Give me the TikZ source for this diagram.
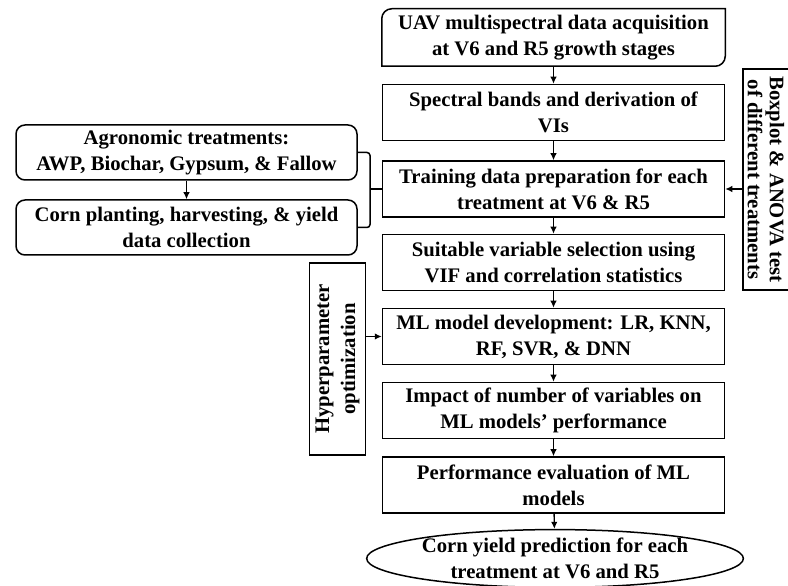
\documentclass[tikz,border=0pt]{standalone}
\usepackage{fontspec}
\setmainfont{Liberation Serif}
\usetikzlibrary{arrows.meta,shapes.geometric}

\begin{document}
\begin{tikzpicture}[
  x=1pt,y=1pt,
  line width=1.5pt,
  font=\bfseries\fontsize{20.7}{26}\selectfont,
  stepbox/.style={draw,align=center,minimum width=342,minimum height=56,inner sep=1pt},
  sidebox/.style={draw,rounded corners=9pt,align=center,minimum width=341,minimum height=55,inner sep=1pt},
  vbox/.style={draw,align=center,inner sep=1pt},
  endbox/.style={ellipse,draw,align=center,minimum width=344,minimum height=53,inner sep=0pt},
  arr/.style={line width=1.3pt,-{Latex[length=7pt,width=6.5pt]}}
]
  \useasboundingbox (0,0) rectangle (788,586);

  % main column
  \node[align=center,minimum width=342,minimum height=56,inner sep=1pt] (uav) at (553.5,548.5)
    {UAV multispectral data acquisition\\at V6 and R5 growth stages};
  \node[stepbox] (spec) at (553.5,473.5) {Spectral bands and derivation of\\VIs};
  \node[stepbox] (train) at (553.5,397) {Training data preparation for each\\treatment at V6 \& R5};
  \node[stepbox] (select) at (553.5,323.5) {Suitable variable selection using\\VIF and correlation statistics};
  \node[stepbox] (model) at (553.5,249.5) {ML model development: LR, KNN,\\RF, SVR, \& DNN};
  \node[stepbox] (impact) at (553.5,175.5) {Impact of number of variables on\\ML models' performance};
  \node[stepbox] (perf) at (553.5,101) {Performance evaluation of ML\\models};
  \node[endbox] (yield) at (555,27.5) {Corn yield prediction for each\\treatment at V6 and R5};

  % uav box: only two corners rounded
  \draw ([yshift=-10pt]uav.north west) arc[start angle=180,end angle=90,radius=10pt]
    -- (uav.north east) -- ([yshift=10pt]uav.south east)
    arc[start angle=0,end angle=-90,radius=10pt] -- (uav.south west) -- cycle;

  % left inputs
  \node[sidebox] (agro) at (186.5,433.5) {Agronomic treatments:\\AWP, Biochar, Gypsum, \& Fallow};
  \node[sidebox] (corn) at (186.5,358.5) {Corn planting, harvesting, \& yield\\data collection};

  % side boxes (rotated, so .south is the side facing the column)
  \node[vbox,rotate=90,minimum width=192,minimum height=56] (hyper) at (337.5,227)
    {Hyperparameter\\optimization};
  \node[vbox,rotate=-90,minimum width=221,minimum height=46,font=\bfseries\fontsize{20.7}{22}\selectfont]
    (stats) at (766,406.5) {Boxplot \& ANOVA test\\of different treatments};

  \draw[arr] (uav) -- (spec);
  \draw[arr] (spec) -- (train);
  \draw[arr] (train) -- (select);
  \draw[arr] (select) -- (model);
  \draw[arr] (model) -- (impact);
  \draw[arr] (impact) -- (perf);
  \draw[arr] (perf) -- (yield);
  \draw[arr] (agro) -- (corn);

  \coordinate (brace) at (370,397);
  \draw[rounded corners=3pt] (agro.east) -| (brace) |- (corn.east);
  \draw (brace) -- (train.west);

  \draw[arr] (hyper.south |- model.west) -- (model.west);
  \draw[arr] (stats.south |- train.east) -- (train.east);
\end{tikzpicture}
\end{document}
